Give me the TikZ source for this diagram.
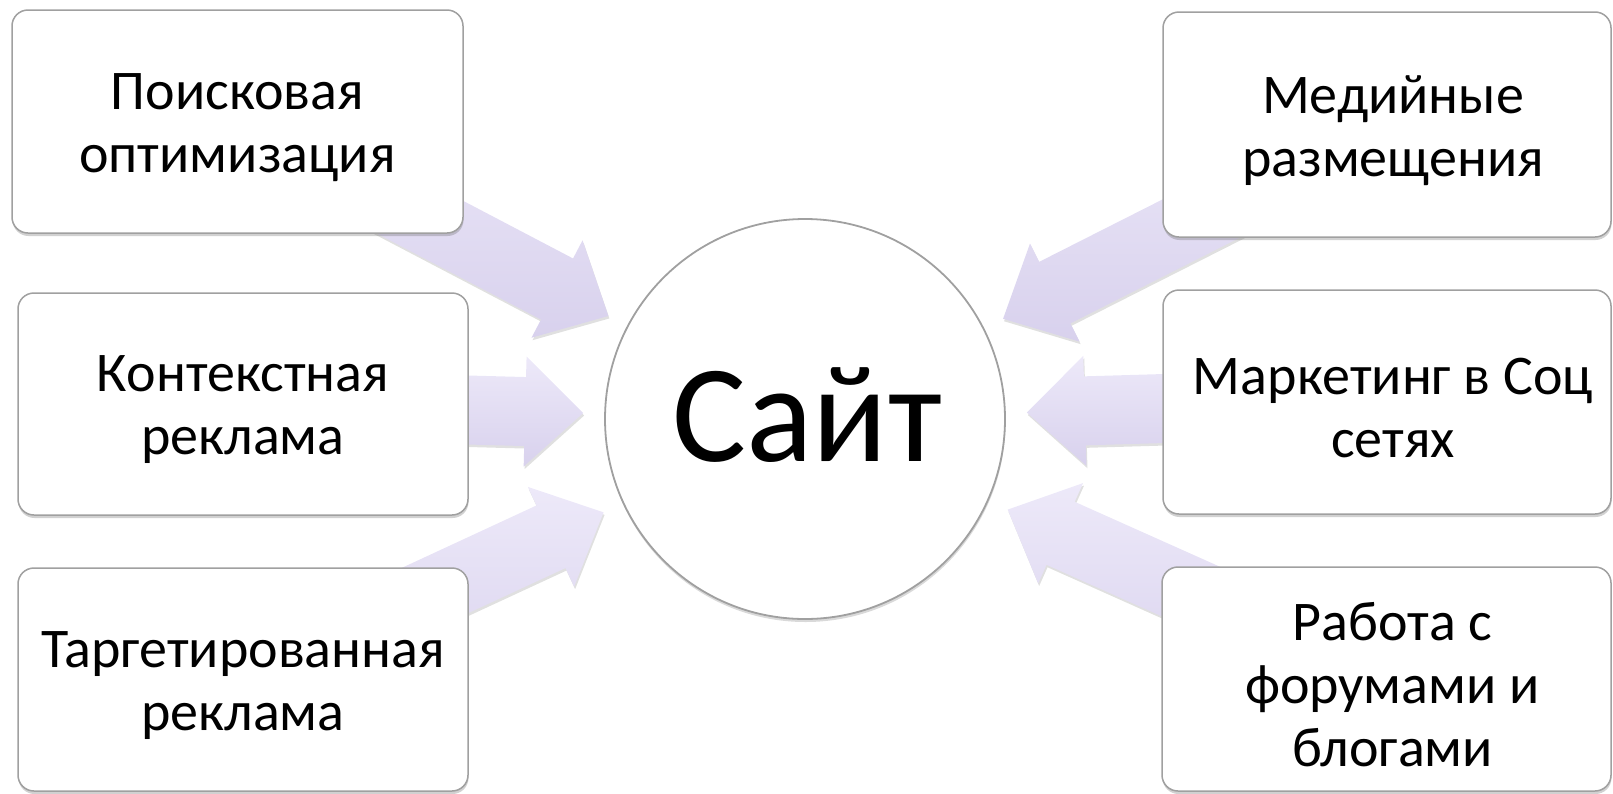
\documentclass[tikz,border=0pt]{standalone}
\usepackage{fontspec}
\setmainfont{Carlito}
\usetikzlibrary{calc,shadows,backgrounds}
\definecolor{arrowtop}{RGB}{237,233,249}
\definecolor{arrowbot}{RGB}{216,209,237}
\definecolor{boxline}{RGB}{160,160,160}
\tikzset{
  box/.style={draw=boxline, line width=1.5pt, fill=white, rounded corners=16pt,
    inner sep=0pt, outer sep=0pt,
    drop shadow={shadow xshift=0.5pt, shadow yshift=-3pt, opacity=0.3, fill=black!60}},
  txt/.style={align=center, inner sep=0pt, font=\fontsize{56}{63}\selectfont},
  hub/.style={circle, draw=boxline, line width=1.8pt, fill=white, minimum size=400pt,
    inner sep=0pt, outer sep=0pt,
    drop shadow={shadow xshift=0.5pt, shadow yshift=-3pt, opacity=0.25, fill=black!60}},
  hubtxt/.style={inner sep=0pt, font=\fontsize{139}{150}\selectfont},
  arrowfill/.style={top color=arrowtop, bottom color=arrowbot, draw=none,
    drop shadow={shadow xshift=1pt, shadow yshift=-2.5pt, opacity=0.12, fill=black}}
}
\newcommand\radarrow[1]{%
  \path ($(site.center)!222pt!(#1.center)$) coordinate (#1-t)
        ($(#1-t)!58pt!(#1.center)$) coordinate (#1-b);
  \shade[arrowfill] ($(#1.center)!34.5pt!90:(#1-t)$) -- ($(#1-b)!34.5pt!90:(#1-t)$)
    -- ($(#1-b)!55pt!90:(#1-t)$) -- (#1-t) -- ($(#1-b)!55pt!-90:(#1-t)$)
    -- ($(#1-b)!34.5pt!-90:(#1-t)$) -- ($(#1.center)!34.5pt!-90:(#1-t)$) -- cycle;
}
\begin{document}
\begin{tikzpicture}[x=1pt,y=-1pt]
\useasboundingbox (0,0) rectangle (1613,793);
\node[hub] (site) at (805,419) {};
\node[hubtxt] (sitet) at ([xshift=2pt,yshift=4pt]site.center) {Сайт};
\node[box, minimum width=451pt, minimum height=223pt] (p1) at (237.5,121.5) {};
\node[box, minimum width=450pt, minimum height=222pt] (p2) at (243,404) {};
\node[box, minimum width=450pt, minimum height=223pt] (p3) at (243,679.5) {};
\node[box, minimum width=448pt, minimum height=225pt] (q1) at (1387,124.5) {};
\node[box, minimum width=448pt, minimum height=224pt] (q2) at (1387,402) {};
\node[box, minimum width=449pt, minimum height=224pt] (q3) at (1386.5,679) {};
\node[txt] (p1t) at ([yshift=-6pt]p1.center) {Поисковая\\оптимизация};
\node[txt] (p2t) at ([yshift=-6pt]p2.center) {Контекстная\\реклама};
\node[txt] (p3t) at ([yshift=-6pt]p3.center) {Таргетированная\\реклама};
\node[txt] (q1t) at ([xshift=6pt,yshift=-6pt]q1.center) {Медийные\\размещения};
\node[txt] (q2t) at ([xshift=6pt,yshift=-6pt]q2.center) {Маркетинг в Соц\\сетях};
\node[txt] (q3t) at ([xshift=6pt,yshift=-6pt]q3.center) {Работа с\\форумами и\\блогами};
\begin{scope}[on background layer]
\radarrow{p1}
\radarrow{p2}
\radarrow{p3}
\radarrow{q1}
\radarrow{q2}
\radarrow{q3}
\end{scope}
\end{tikzpicture}
\end{document}
